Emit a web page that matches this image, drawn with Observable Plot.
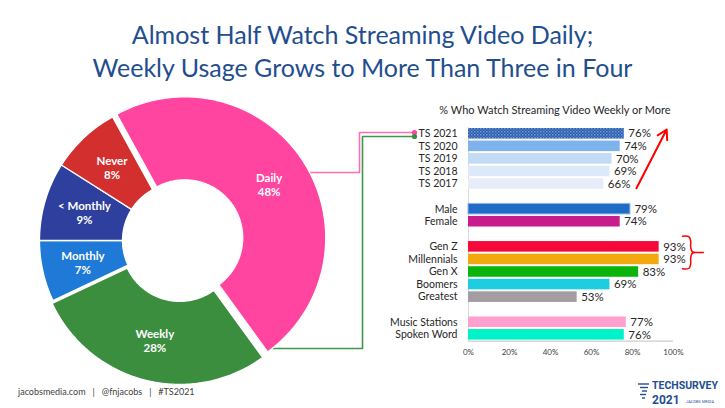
<!DOCTYPE html>
<html><head><meta charset="utf-8">
<script src="https://cdn.jsdelivr.net/npm/d3@7"></script>
<script src="https://cdn.jsdelivr.net/npm/@observablehq/plot@0.6"></script>
<style>
html,body{margin:0;padding:0;background:#fff;}
#page{position:relative;width:725px;height:408px;overflow:hidden;font-family:Lato,"Open Sans",sans-serif;background:#fff;}
#title{position:absolute;left:0;top:18px;width:725px;text-align:center;color:#1F4E8F;font-size:25px;line-height:33px;}
#bartitle{position:absolute;left:400px;top:103px;width:310px;text-align:center;color:#262626;font-size:11px;}
#donut{position:absolute;left:0;top:90px;}
#bars{position:absolute;left:360px;top:95px;}
#footer{position:absolute;left:18px;top:386px;font-size:9px;color:#404040;white-space:pre;}
#logo{position:absolute;left:636px;top:379px;width:89px;height:28px;}
</style></head><body>
<div id="page">
  <div id="title">Almost Half Watch Streaming Video Daily;<br>Weekly Usage Grows to More Than Three in Four</div>
  <div id="donut"></div>
  <div id="bartitle">% Who Watch Streaming Video Weekly or More</div>
  <div id="bars"></div>
  <div id="footer">jacobsmedia.com   |   @fnjacobs   |   #TS2021</div>
  <div id="logo">
    <svg width="89" height="28" viewBox="0 0 89 28">
      <g stroke="#1F4E8F" stroke-width="1.4">
        <line x1="2" y1="5" x2="13" y2="5"/><line x1="4" y1="8.5" x2="12" y2="8.5"/>
        <line x1="6" y1="12" x2="11" y2="12"/><line x1="4" y1="15.5" x2="10" y2="15.5"/>
        <line x1="6" y1="19" x2="9" y2="19"/>
      </g>
      <text x="16" y="10" font-family="Roboto, sans-serif" font-weight="bold" font-size="10.5" fill="#1F4E8F">TECHSURVEY</text>
      <text x="16" y="25" font-family="Roboto, sans-serif" font-weight="bold" font-size="12" fill="#1F4E8F">2021</text>
      <text x="50" y="24" font-family="Roboto, sans-serif" font-size="4" fill="#1F4E8F">JACOBS MEDIA</text>
    </svg>
  </div>
</div>
<script>
// ---- Data ----
const usageLabels = ["Daily", "Weekly", "Monthly", "< Monthly", "Never"];
const usageValues = [48, 28, 7, 9, 8];
const usageColors = ["#FF45A0", "#3A8E3E", "#1E7AD6", "#2E3F9E", "#D32F2F"];

const barLabels = ["TS 2021", "TS 2020", "TS 2019", "TS 2018", "TS 2017",
  "Male", "Female",
  "Gen Z", "Millennials", "Gen X", "Boomers", "Greatest",
  "Music Stations", "Spoken Word"];
const barValues = [76, 74, 70, 69, 66, 79, 74, 93, 93, 83, 69, 53, 77, 76];
const barGroups = [0, 0, 0, 0, 0, 1, 1, 2, 2, 2, 2, 2, 3, 3];
const barColors = ["url(#ts21)", "#7EB2EC", "#C2DBF6", "#DBE9F8", "#E7EDF8",
  "#1F6BC6", "#C81C8C",
  "#F5083A", "#F2A90E", "#0AB40A", "#1ECDE0", "#A39CA3",
  "#FFA0D0", "#00F2C8"];
const xTicks = [0, 20, 40, 60, 80, 100];

// ---- Donut ----
const R = 141, r0 = 58, labelR = 100;
const explode = {"Daily": 5, "Weekly": 3};
const startDeg = -28.8;
const rad = d => d * Math.PI / 180;
let acc = 0;
const slices = usageLabels.map((name, i) => {
  const a0 = startDeg + acc * 3.6;
  acc += usageValues[i];
  const a1 = startDeg + acc * 3.6;
  const mid = (a0 + a1) / 2;
  const off = explode[name] || 0;
  return {name, value: usageValues[i], color: usageColors[i], a0, a1, mid, off};
});
const pt = (rho, deg, s) => ({
  x: rho * Math.sin(rad(deg)) + s.off * Math.sin(rad(s.mid)),
  y: rho * Math.cos(rad(deg)) + s.off * Math.cos(rad(s.mid))
});
const arcPts = [];
for (const s of slices) {
  const n = Math.max(4, Math.ceil(s.a1 - s.a0));
  for (let k = 0; k <= n; k++) arcPts.push({...pt(R, s.a0 + (s.a1 - s.a0) * k / n, s), name: s.name, color: s.color});
  for (let k = n; k >= 0; k--) arcPts.push({...pt(r0, s.a0 + (s.a1 - s.a0) * k / n, s), name: s.name, color: s.color});
}
const labelPts = slices.map(s => ({...pt(labelR, s.mid, s), text: `${s.name}\n${s.value}%`}));

// connectors from the Daily and Weekly slices to the TS 2021 row
const daily = slices[0], weekly = slices[1];
const pinkY = 68, greenY = -108;
const pinkX0 = daily.off * Math.sin(rad(daily.mid)) + Math.sqrt(R * R - (pinkY - daily.off * Math.cos(rad(daily.mid))) ** 2);
const greenX0 = weekly.off * Math.sin(rad(weekly.mid)) + Math.sqrt(R * R - (greenY - weekly.off * Math.cos(rad(weekly.mid))) ** 2);
const pinkPath = [{x: pinkX0, y: pinkY}, {x: 179, y: pinkY}, {x: 179, y: 108}, {x: 234, y: 108}];
const greenPath = [{x: greenX0 - 2, y: greenY}, {x: 182, y: greenY}, {x: 182, y: 104}, {x: 234, y: 104}];

const donut = Plot.plot({
  width: 430, height: 300,
  marginTop: 0, marginBottom: 0, marginLeft: 0, marginRight: 0,
  style: {background: "transparent", overflow: "visible"},
  x: {domain: [-180, 250], axis: null},
  y: {domain: [-150, 150], axis: null},
  color: {type: "identity"},
  marks: [
    Plot.line(pinkPath, {x: "x", y: "y", stroke: "#FF6EB8", strokeWidth: 1.6}),
    Plot.line(greenPath, {x: "x", y: "y", stroke: "#3C9A46", strokeWidth: 1.6}),
    Plot.dot([pinkPath[3]], {x: "x", y: "y", r: 2.6, fill: "#FF45A0"}),
    Plot.dot([greenPath[3]], {x: "x", y: "y", r: 2.6, fill: "#3A8E3E"}),
    Plot.line(arcPts, {x: "x", y: "y", z: "name", fill: "color", stroke: "white", strokeWidth: 1.3, curve: "linear-closed"}),
    Plot.text(labelPts, {x: "x", y: "y", text: "text", fill: "white", fontWeight: "bold", fontSize: 11.5, lineHeight: 1.25, fontFamily: "Lato, sans-serif"})
  ]
});
document.getElementById("donut").appendChild(donut);

// ---- Bars ----
let r = 0;
const rows = barLabels.map((label, i) => {
  if (i > 0 && barGroups[i] !== barGroups[i - 1]) r++;
  const row = {label, value: barValues[i], color: barColors[i], row: r};
  r++;
  return row;
});
const nRows = r;
const labelByRow = new Map(rows.map(d => [d.row, d.label]));
const half = 0.42;

// bracket around Gen Z / Millennials and growth arrow (in data units)
const bracketTop = [{x: 104.4, y: 8.15}, {x: 107.6, y: 8.2}, {x: 108.4, y: 8.55}, {x: 108.4, y: 9.05}, {x: 109.2, y: 9.4}, {x: 110, y: 9.45}];
const bracketBot = [{x: 110, y: 9.45}, {x: 109.2, y: 9.5}, {x: 108.4, y: 9.85}, {x: 108.4, y: 10.35}, {x: 107.6, y: 10.7}, {x: 104.4, y: 10.75}];
const bracketTick = [{x: 109.5, y: 9.45}, {x: 114.6, y: 9.45}];

const bars = Plot.plot({
  width: 365, height: 270,
  marginTop: 32, marginBottom: 24.4, marginLeft: 108, marginRight: 52,
  style: {background: "transparent", overflow: "visible", fontFamily: "Lato, sans-serif"},
  x: {domain: [0, 100], axis: null},
  y: {domain: [-0.5, nRows - 0.5], reverse: true, axis: null},
  color: {type: "identity"},
  marks: [
    Plot.ruleX([0], {y1: -0.5, y2: nRows - 0.5, stroke: "#D9D9D9", strokeWidth: 1}),
    Plot.ruleY([nRows - 0.5], {stroke: "#BFBFBF", strokeWidth: 1}),
    Plot.rectX(rows, {x1: 0, x2: "value", y1: d => d.row - half, y2: d => d.row + half, fill: "color"}),
    Plot.rectX(rows.filter(d => d.label === "Male"), {x1: 0, x2: "value", y1: d => d.row - half, y2: d => d.row + half, fill: "none", stroke: "#8DB8EE", strokeWidth: 1}),
    Plot.text(rows, {x: "value", y: "row", text: d => d.value + "%", dx: 4, textAnchor: "start", fontSize: 11.5, fill: "#262626"}),
    Plot.axisY(rows.map(d => d.row), {tickFormat: d => labelByRow.get(d), tickSize: 0, tickPadding: 11, fontSize: 10.5, label: null, color: "#262626"}),
    Plot.axisX(xTicks, {tickFormat: d => d + "%", tickSize: 0, tickPadding: 8, fontSize: 8, label: null, anchor: "bottom", color: "#404040"}),
    Plot.arrow([{x1: 83.0, y1: 4, x2: 95.6, y2: 0}], {x1: "x1", y1: "y1", x2: "x2", y2: "y2", stroke: "#FF0000", strokeWidth: 2, headLength: 8, insetStart: -4.8, insetEnd: -4.8}),
    Plot.line(bracketTop, {x: "x", y: "y", stroke: "#FF0000", strokeWidth: 1.5, curve: "catmull-rom"}),
    Plot.line(bracketBot, {x: "x", y: "y", stroke: "#FF0000", strokeWidth: 1.5, curve: "catmull-rom"}),
    Plot.line(bracketTick, {x: "x", y: "y", stroke: "#FF0000", strokeWidth: 1.5})
  ]
});
const defs = d3.select(bars).insert("defs", ":first-child");
const pat = defs.append("pattern").attr("id", "ts21").attr("patternUnits", "userSpaceOnUse").attr("width", 3).attr("height", 3);
pat.append("rect").attr("width", 3).attr("height", 3).attr("fill", "#2A5CA8");
pat.append("rect").attr("width", 1.5).attr("height", 1.5).attr("fill", "#6E98DA");
pat.append("rect").attr("x", 1.5).attr("y", 1.5).attr("width", 1.5).attr("height", 1.5).attr("fill", "#4C7CC6");
document.getElementById("bars").appendChild(bars);
</script>
</body></html>
